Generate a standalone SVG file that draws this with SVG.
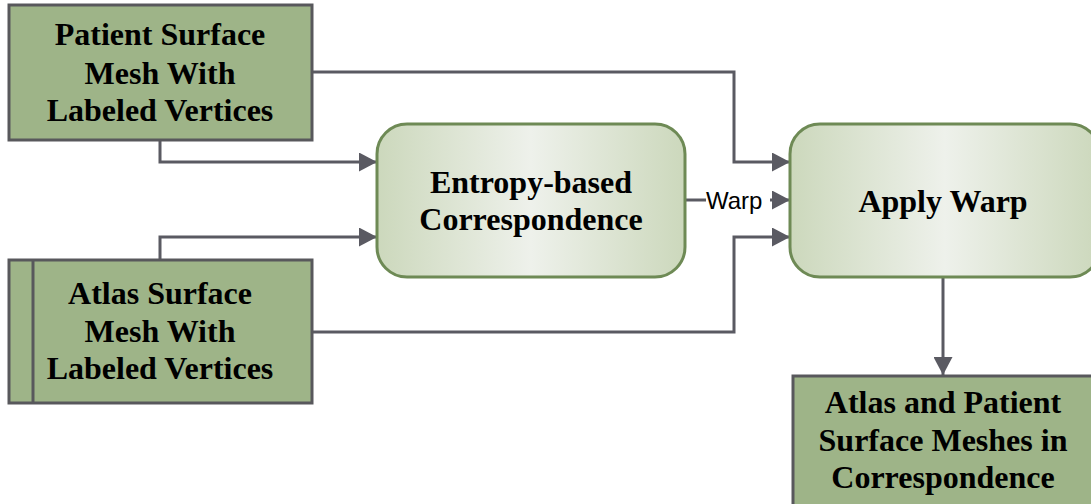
<svg xmlns="http://www.w3.org/2000/svg" width="1091" height="504" viewBox="0 0 1091 504">
<style>
.box{fill:#9eb488;stroke:#58585c;stroke-width:3}
.rbox{stroke:#6e8a55;stroke-width:3}
.t{font-family:"Liberation Serif","Times New Roman",serif;font-weight:bold;font-size:32px;fill:#000;text-anchor:middle}
.c{fill:none;stroke:#5a5a62;stroke-width:3}
.lbl{font-family:"Liberation Sans",Arial,sans-serif;font-size:24px;fill:#000}
</style>
<defs>
<linearGradient id="g" x1="0" y1="0" x2="1" y2="0">
<stop offset="0" stop-color="#ccd8bc"/>
<stop offset="0.5" stop-color="#eef1eb"/>
<stop offset="1" stop-color="#ccd8bc"/>
</linearGradient>
<marker id="a" viewBox="0 0 18 19" refX="18" refY="9.5" markerWidth="18" markerHeight="19" markerUnits="userSpaceOnUse" orient="auto">
<path d="M0,0 L18,9.5 L0,19 Z" fill="#5a5a62"/>
</marker>
</defs>
<g id="connectors">
<path class="c" d="M312,72 H734 V162 H790" marker-end="url(#a)"/>
<path class="c" d="M160,141 V162 H377" marker-end="url(#a)"/>
<path class="c" d="M160,260 V237 H377" marker-end="url(#a)"/>
<path class="c" d="M312,332 H734 V237 H790" marker-end="url(#a)"/>
<path class="c" d="M685,200 H706"/>
<path class="c" d="M770,200 H790" marker-end="url(#a)"/>
<text class="lbl" x="706" y="209">Warp</text>
<path class="c" d="M943,277 V375" marker-end="url(#a)"/>
</g>
<g id="patient">
<rect class="box" x="9" y="5" width="303" height="135"/>
<text class="t" x="160" y="45">Patient Surface</text>
<text class="t" x="160" y="84">Mesh With</text>
<text class="t" x="160" y="121">Labeled Vertices</text>
</g>
<g id="atlas">
<rect class="box" x="9" y="260" width="303" height="143"/>
<line x1="33" y1="260" x2="33" y2="403" stroke="#58585c" stroke-width="3"/>
<text class="t" x="160" y="304">Atlas Surface</text>
<text class="t" x="160" y="342">Mesh With</text>
<text class="t" x="160" y="379">Labeled Vertices</text>
</g>
<g id="entropy">
<rect class="rbox" x="377" y="124" width="308" height="153" rx="30" fill="url(#g)"/>
<text class="t" x="531" y="193">Entropy-based</text>
<text class="t" x="531" y="230">Correspondence</text>
</g>
<g id="apply">
<rect class="rbox" x="790" y="124" width="310" height="153" rx="30" fill="url(#g)"/>
<text class="t" x="943" y="212">Apply Warp</text>
</g>
<g id="result">
<rect class="box" x="793" y="376" width="310" height="140"/>
<text class="t" x="943" y="413">Atlas and Patient</text>
<text class="t" x="943" y="451">Surface Meshes in</text>
<text class="t" x="943" y="488">Correspondence</text>
</g>
</svg>
